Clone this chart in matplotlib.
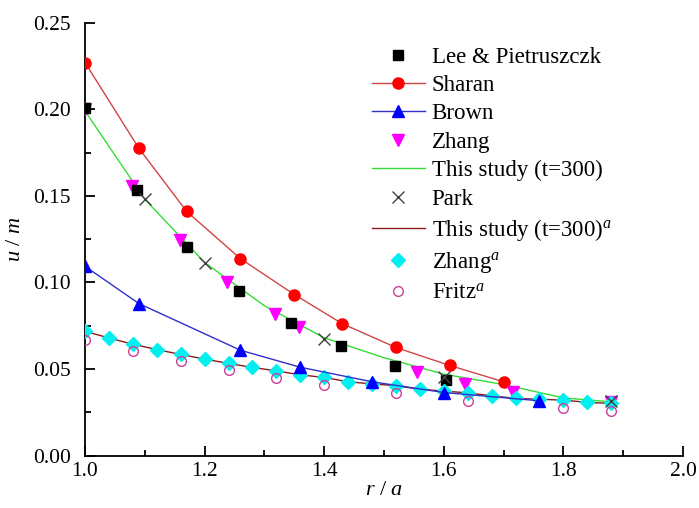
import matplotlib.pyplot as plt
from matplotlib.ticker import MultipleLocator

plt.rcParams['font.family'] = ['Liberation Serif', 'DejaVu Serif']
plt.rcParams['mathtext.fontset'] = 'custom'
plt.rcParams['mathtext.rm'] = 'Liberation Serif'
plt.rcParams['mathtext.it'] = 'Liberation Serif:italic'

# Lee & Pietruszczk
lee_r = [1.0, 1.087, 1.17, 1.257, 1.344, 1.428, 1.519, 1.604]
lee_u = [0.201, 0.1535, 0.1204, 0.095, 0.0766, 0.0631, 0.0518, 0.0439]

# Sharan
sharan_r = [1.0, 1.09, 1.17, 1.26, 1.35, 1.43, 1.52, 1.61, 1.70]
sharan_u = [0.227, 0.1775, 0.141, 0.1137, 0.093, 0.0762, 0.0624, 0.052, 0.0426]

# Brown
brown_r = [1.0, 1.09, 1.26, 1.36, 1.48, 1.60, 1.76]
brown_u = [0.1093, 0.0878, 0.0608, 0.051, 0.0426, 0.0364, 0.0316]

# Zhang
zhang_r = [1.0, 1.079, 1.159, 1.238, 1.318, 1.358, 1.556, 1.636, 1.716, 1.88]
zhang_u = [0.200, 0.1556, 0.1243, 0.1002, 0.082, 0.0743, 0.048, 0.0416, 0.0368, 0.031]

# This study (t=300)
study_r = [1.0, 1.1, 1.2, 1.3, 1.4, 1.5, 1.6, 1.7, 1.8, 1.88]
study_u = [0.199, 0.148, 0.1115, 0.0865, 0.068, 0.0565, 0.047, 0.041, 0.0333, 0.031]

# Park
park_r = [1.1, 1.2, 1.4, 1.6, 1.88]
park_u = [0.148, 0.1114, 0.0672, 0.0451, 0.0316]

# Zhang^a and This study (t=300)^a
zhang_a_r = [1.00, 1.04, 1.08, 1.12, 1.16, 1.20, 1.24, 1.28, 1.32, 1.36, 1.40, 1.44,
             1.48, 1.52, 1.56, 1.60, 1.64, 1.68, 1.72, 1.76, 1.80, 1.84, 1.88]
zhang_a_u = [0.0718, 0.0679, 0.0643, 0.0612, 0.0584, 0.0557, 0.0532, 0.0509, 0.0489,
             0.0466, 0.0451, 0.0426, 0.0414, 0.0403, 0.0383, 0.0372, 0.0362, 0.0345,
             0.033, 0.0325, 0.032, 0.0307, 0.0301]

# Fritz^a
fritz_r = [1.0, 1.08, 1.16, 1.24, 1.32, 1.40, 1.52, 1.64, 1.80, 1.88]
fritz_u = [0.0666, 0.0605, 0.0545, 0.0493, 0.0449, 0.0407, 0.0359, 0.0314, 0.0272, 0.0257]

fig = plt.figure(figsize=(6.99, 5.08), dpi=100)
ax = fig.add_axes([0.1216, 0.1033, 0.8555, 0.852])

ax.plot(lee_r, lee_u, ls='none', marker='s', ms=7, color='black',
        label='Lee & Pietruszczk', zorder=5)
ax.plot(sharan_r, sharan_u, color='#d04545', lw=1, marker='o', ms=8,
        mfc='red', mec='red', label='Sharan', zorder=4)
ax.plot(brown_r, brown_u, color='#3030c8', lw=1, marker='^', ms=9,
        mfc='blue', mec='blue', label='Brown', zorder=6)
ax.plot(zhang_r, zhang_u, ls='none', marker='v', ms=9, color='#ff00ff',
        label='Zhang', zorder=4)
ax.plot(study_r, study_u, color='#33dd33', lw=1, label='This study (t=300)', zorder=3)
ax.plot(park_r, park_u, ls='none', marker='x', ms=9, mew=1, color='#404040',
        label='Park', zorder=7)
ax.plot(zhang_a_r, zhang_a_u, color='#8b1a1a', lw=1,
        label=r'This study (t=300)$^{\it a}$', zorder=3)
ax.plot(zhang_a_r, zhang_a_u, ls='none', marker='D', ms=7, color='#00f0f0',
        label=r'Zhang$^{\it a}$', zorder=5)
ax.plot(fritz_r, fritz_u, ls='none', marker='o', ms=7, mfc='none', mew=1,
        mec='#c8409a', label=r'Fritz$^{\it a}$', zorder=5)

ax.set_xlim(1.0, 2.0)
ax.set_ylim(0.0, 0.25)
ax.xaxis.set_major_locator(MultipleLocator(0.2))
ax.xaxis.set_minor_locator(MultipleLocator(0.1))
ax.yaxis.set_major_locator(MultipleLocator(0.05))
ax.yaxis.set_minor_locator(MultipleLocator(0.025))
ax.xaxis.set_major_formatter(plt.FormatStrFormatter('%.1f'))
ax.yaxis.set_major_formatter(plt.FormatStrFormatter('%.2f'))

for side in ['top', 'right']:
    ax.spines[side].set_visible(False)
for side in ['left', 'bottom']:
    ax.spines[side].set_linewidth(1.3)
ax.tick_params(which='both', direction='in', width=1.3, labelsize=15.5)
ax.tick_params(axis='y', which='major', length=7, pad=10)
ax.tick_params(axis='x', which='major', length=7, pad=5)
ax.tick_params(which='minor', length=4)

ax.set_xlabel(r'$\it{r}$ / $\it{a}$', fontsize=16, labelpad=0)
ax.set_ylabel(r'$\it{u}$ / $\it{m}$', fontsize=16, labelpad=6)

ax.legend(loc='upper left', bbox_to_anchor=(0.48, 0.945), frameon=False,
          fontsize=16.5, handlelength=2.3, handletextpad=0.3, labelspacing=0.32,
          borderpad=0, borderaxespad=0)

fig.savefig('out.png', dpi=100)
